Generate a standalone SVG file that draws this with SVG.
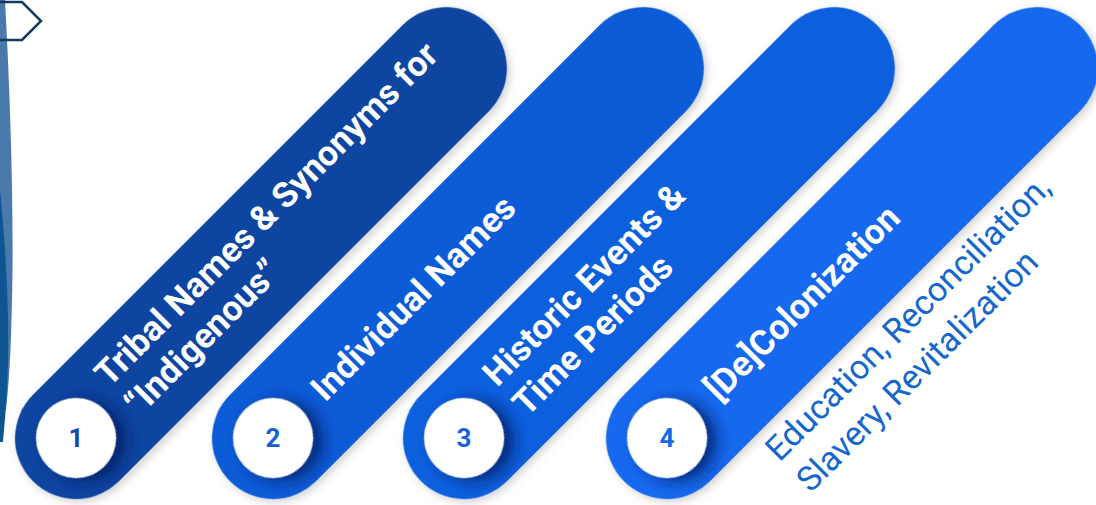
<svg xmlns="http://www.w3.org/2000/svg" width="1096" height="505" viewBox="0 0 1096 505">
<defs>
<style>
.lbl{font-family:Roboto,"Liberation Sans",sans-serif;font-weight:700;font-size:35px;fill:#ffffff}
.num{font-family:Roboto,"Liberation Sans",sans-serif;font-weight:700;font-size:26px;text-anchor:middle}
.sub{font-family:Roboto,"Liberation Sans",sans-serif;font-weight:400;font-size:34px;fill:#1667cc}
</style>
<filter id="pillSh" x="-20%" y="-20%" width="140%" height="140%">
<feDropShadow dx="0" dy="4" stdDeviation="4" flood-color="#000" flood-opacity="0.18"/>
</filter>
<filter id="circSh" x="-100%" y="-100%" width="300%" height="300%">
<feDropShadow dx="5" dy="9" stdDeviation="8" flood-color="#051f5c" flood-opacity="0.8"/>
</filter>
<clipPath id="c1"><rect x="-61" y="-61" width="645" height="122" rx="61"/></clipPath>
</defs>
<rect width="1096" height="505" fill="#ffffff"/>
<g id="decor">
<path d="M0,0 H5 C11,110 14,220 12,300 C11,350 9,385 6,410 L0,410 Z" fill="#4a7aab"/>
<path d="M0,190 C6,250 9,310 8,360 C7,400 5,420 3,442 L0,442 Z" fill="#0e5592"/>
<path d="M-3,2 H22 L41,21 L22,40 H-3" fill="none" stroke="#163a5f" stroke-width="2.5" stroke-linejoin="miter"/>
</g>
<g id="node1">
<g transform="translate(76,438) rotate(-45)">
<rect x="-61" y="-61" width="645" height="122" rx="61" fill="#0b45a1" filter="url(#pillSh)"/>
<g clip-path="url(#c1)"><circle cx="0" cy="0" r="40" fill="#fff" filter="url(#circSh)"/></g>
<text class="lbl" x="59" y="-12">Tribal Names &amp; Synonyms for</text>
<text class="lbl" x="59" y="30">“Indigenous”</text>
</g>
<text class="num" x="76" y="447" fill="#1249aa">1</text>
</g>
<g id="node2">
<g transform="translate(273,438) rotate(-45)">
<rect x="-61" y="-61" width="645" height="122" rx="61" fill="#0f5cd7" filter="url(#pillSh)"/>
<g clip-path="url(#c1)"><circle cx="0" cy="0" r="40" fill="#fff" filter="url(#circSh)"/></g>
<text class="lbl" x="62" y="12">Individual Names</text>
</g>
<text class="num" x="273" y="447" fill="#1560d2">2</text>
</g>
<g id="node3">
<g transform="translate(464,438) rotate(-45)">
<rect x="-61" y="-61" width="645" height="122" rx="61" fill="#0f61dd" filter="url(#pillSh)"/>
<g clip-path="url(#c1)"><circle cx="0" cy="0" r="40" fill="#fff" filter="url(#circSh)"/></g>
<text class="lbl" x="59" y="-12">Historic Events &amp;</text>
<text class="lbl" x="59" y="30">Time Periods</text>
</g>
<text class="num" x="464" y="447" fill="#1664dc">3</text>
</g>
<g id="node4">
<g transform="translate(667,438) rotate(-45)">
<rect x="-61" y="-61" width="645" height="122" rx="61" fill="#1369ee" filter="url(#pillSh)"/>
<g clip-path="url(#c1)"><circle cx="0" cy="0" r="40" fill="#fff" filter="url(#circSh)"/></g>
<text class="lbl" x="62" y="12">[De]Colonization</text>
<text class="sub" x="62" y="97">Education, Reconciliation,</text>
<text class="sub" x="62" y="141">Slavery, Revitalization</text>
</g>
<text class="num" x="667" y="447" fill="#1668ea">4</text>
</g>
<g id="connectors"/>
</svg>
